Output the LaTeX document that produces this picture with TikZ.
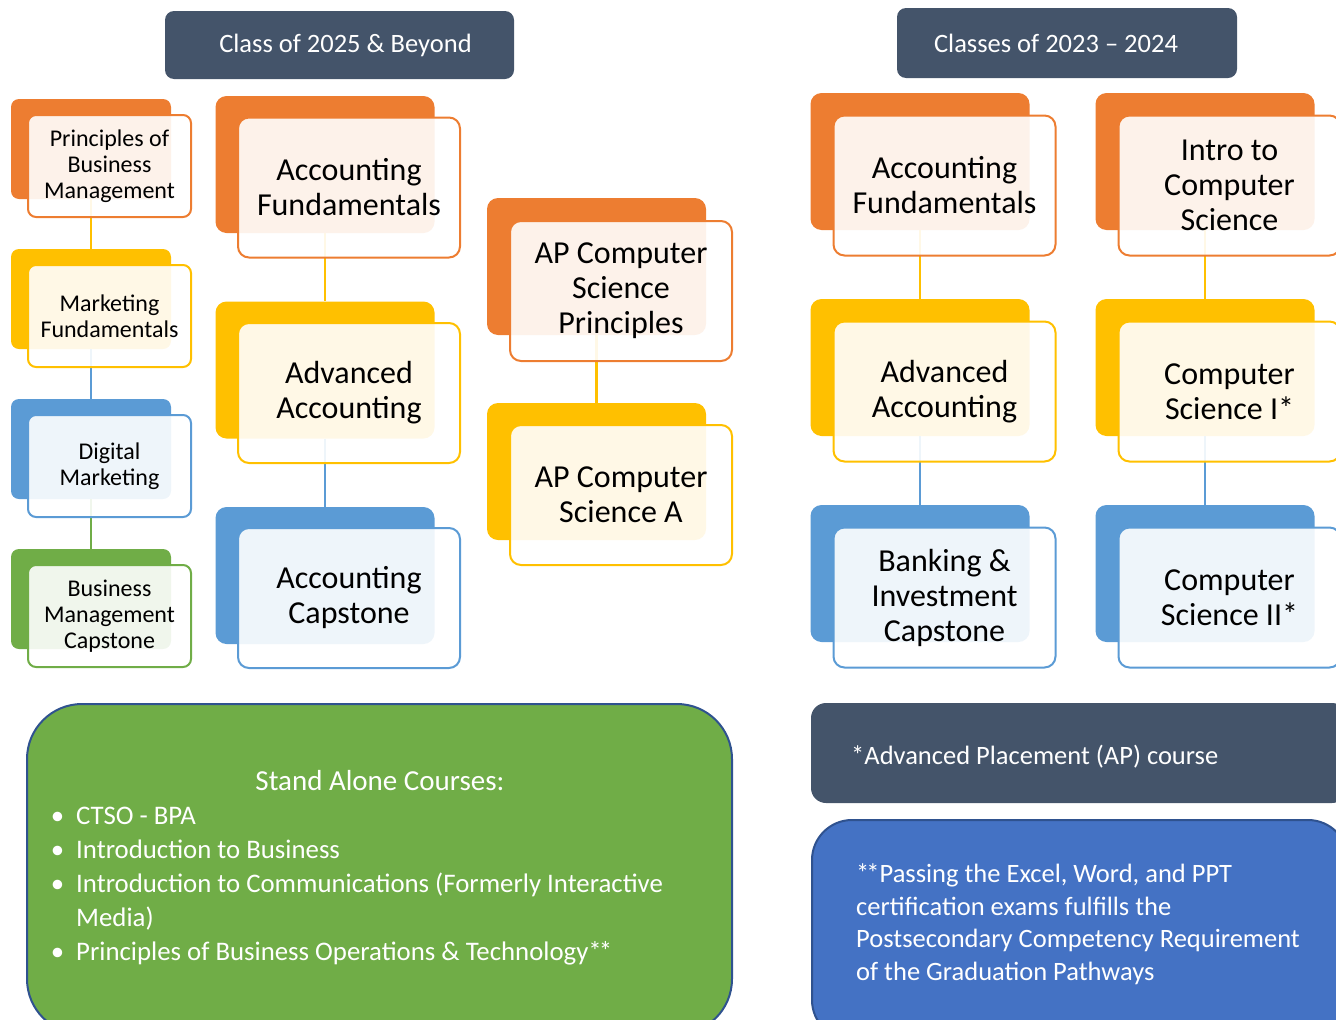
\documentclass[tikz,border=0pt]{standalone}
\usepackage{fontspec}
\setmainfont{Carlito}
\usepackage{xcolor}
\definecolor{Corg}{HTML}{ED7D31}
\definecolor{Cyel}{HTML}{FFC000}
\definecolor{Cblu}{HTML}{5B9BD5}
\definecolor{Cgrn}{HTML}{70AD47}
\definecolor{Cslt}{HTML}{44546A}
\definecolor{Cacc}{HTML}{4472C4}
\definecolor{Cedge}{HTML}{2F528F}
\newcommand{\dstar}{*\kern-3pt*}
\tikzset{
  sbk/.style  = {fill=#1, rounded corners=8pt, inner sep=0pt,
                 minimum width=160pt, minimum height=100pt},
  sfr/.style  = {draw=#1, line width=2pt, fill=white, fill opacity=0.9,
                 text opacity=1, rounded corners=8pt, inner sep=0pt,
                 minimum width=163pt, minimum height=102pt, align=center,
                 font=\fontsize{24}{26}\selectfont},
  bbk/.style  = {fill=#1, rounded corners=11pt, inner sep=0pt,
                 minimum width=219pt, minimum height=137pt},
  bfr/.style  = {draw=#1, line width=2pt, fill=white, fill opacity=0.9,
                 text opacity=1, rounded corners=11pt, inner sep=0pt,
                 minimum width=222pt, minimum height=140pt, align=center,
                 font=\fontsize{32}{35}\selectfont},
  lnk/.style  = {draw=#1, line width=2.5pt},
  hdr/.style  = {fill=Cslt, rounded corners=9pt, text=white, inner sep=0pt,
                 font=\fontsize{26.5}{30}\selectfont},
  txt/.style  = {text=white, inner sep=0pt, align=left},
}

\begin{document}
\begin{tikzpicture}[x=1pt, y=-1pt]
\useasboundingbox (0,0) rectangle (1336,1020);

%%──────────────────────────────────────────────────
%% Headers
%%──────────────────────────────────────────────────
\node[hdr, minimum width=349pt, minimum height=68pt] (hnew) at (339.5,45)
  {\hspace{12pt}Class of 2025 \& Beyond};
\node[hdr, minimum width=340pt, minimum height=70pt] (hold) at (1067,43)
  {Classes of 2023 -- 2024\rule{22pt}{0pt}};

%%──────────────────────────────────────────────────
%% Class of 2025: business column
%%──────────────────────────────────────────────────
\node[sbk=Corg] (pbmB) at (91,149) {};
\node[sbk=Cyel] (mktB) at (91,299) {};
\node[sbk=Cblu] (dmB)  at (91,449) {};
\node[sbk=Cgrn] (bmcB) at (91,599) {};

\draw[lnk=Cyel] (pbmB) -- (mktB);
\draw[lnk=Cblu] (mktB) -- (dmB);
\draw[lnk=Cgrn] (dmB)  -- (bmcB);

\node[sfr=Corg] (pbm) at (109.5,166) {Principles of\\Business\\Management};
\node[sfr=Cyel] (mkt) at (109.5,316) {Marketing\\Fundamentals};
\node[sfr=Cblu] (dm)  at (109.5,466) {Digital\\Marketing};
\node[sfr=Cgrn] (bmc) at (109.5,616) {Business\\Management\\Capstone};

%%──────────────────────────────────────────────────
%% Class of 2025: accounting column
%%──────────────────────────────────────────────────
\node[bbk=Corg] (afB) at (325,164.5) {};
\node[bbk=Cyel] (aaB) at (325,370)   {};
\node[bbk=Cblu] (acB) at (325,575.5) {};

\draw[lnk=Cyel] (afB) -- (aaB);
\draw[lnk=Cblu] (aaB) -- (acB);

\node[bfr=Corg] (af) at (349,187.5) {Accounting\\Fundamentals};
\node[bfr=Cyel] (aa) at (349,393)   {Advanced\\Accounting};
\node[bfr=Cblu] (ac) at (349,598)   {Accounting\\Capstone};

%%──────────────────────────────────────────────────
%% Class of 2025: computer science column
%%──────────────────────────────────────────────────
\node[bbk=Corg] (cspB) at (596.5,266.5) {};
\node[bbk=Cyel] (csaB) at (596.5,471.5) {};

\draw[lnk=Cyel] (cspB) -- (csaB);

\node[bfr=Corg] (csp) at (621,291) {AP Computer\\Science\\Principles};
\node[bfr=Cyel] (csa) at (621,495) {AP Computer\\Science A};

%%──────────────────────────────────────────────────
%% Classes of 2023 - 2024
%%──────────────────────────────────────────────────
\node[bbk=Corg] (oafB) at (920,161.5) {};
\node[bbk=Cyel] (oaaB) at (920,367.5) {};
\node[bbk=Cblu] (bicB) at (920,573.5) {};

\node[bbk=Corg] (icsB)  at (1205,161.5) {};
\node[bbk=Cyel] (cs1B)  at (1205,367.5) {};
\node[bbk=Cblu] (cs2B)  at (1205,573.5) {};

\draw[lnk=Cyel] (oafB) -- (oaaB);
\draw[lnk=Cblu] (oaaB) -- (bicB);
\draw[lnk=Cyel] (icsB) -- (cs1B);
\draw[lnk=Cblu] (cs1B) -- (cs2B);

\node[bfr=Corg] (oaf) at (944.5,185.5) {Accounting\\Fundamentals};
\node[bfr=Cyel] (oaa) at (944.5,391.5) {Advanced\\Accounting};
\node[bfr=Cblu] (bic) at (944.5,597.5) {Banking \&\\Investment\\Capstone};

\node[bfr=Corg] (ics) at (1229.5,185.5) {Intro to\\Computer\\Science};
\node[bfr=Cyel] (cs1) at (1229.5,391.5) {Computer\\Science I*};
\node[bfr=Cblu] (cs2) at (1229.5,597.5) {Computer\\Science II*};

%%──────────────────────────────────────────────────
%% Stand alone courses
%%──────────────────────────────────────────────────
\node[fill=Cgrn, draw=Cedge, line width=2pt, rounded corners=55pt,
      minimum width=705pt, minimum height=330pt] (alone) at (379.5,869) {};
\node[txt, font=\fontsize{29}{34}\selectfont] (aloneT) at (380,781)
  {Stand Alone Courses:};
%% base anchor = baseline of the last line
\node[txt, anchor=base west, font=\fontsize{26.8}{33.8}\selectfont] (aloneL)
  at (76,960)
  {\llap{•\hspace{12pt}}CTSO - BPA\\
   \llap{•\hspace{12pt}}Introduction to Business\\
   \llap{•\hspace{12pt}}Introduction to Communications (Formerly Interactive\\
   Media)\\
   \llap{•\hspace{12pt}}Principles of Business Operations \& Technology\dstar};

%%──────────────────────────────────────────────────
%% Notes
%%──────────────────────────────────────────────────
\node[fill=Cslt, rounded corners=15pt, minimum width=536pt,
      minimum height=100pt] (apnote) at (1079,753) {};
\node[txt, anchor=base west, font=\fontsize{26.5}{30}\selectfont] (apT)
  at (851,764) {*Advanced Placement (AP) course};

\node[fill=Cacc, draw=Cedge, line width=2pt, rounded corners=40pt,
      minimum width=536pt, minimum height=220pt] (cert) at (1080,930) {};
\node[txt, anchor=base west, font=\fontsize{26.5}{32.4}\selectfont] (certT)
  at (856,980)
  {\dstar Passing the Excel, Word, and PPT\\
   certification exams fulfills the\\
   Postsecondary Competency Requirement\\
   of the Graduation Pathways};

\end{tikzpicture}
\end{document}
